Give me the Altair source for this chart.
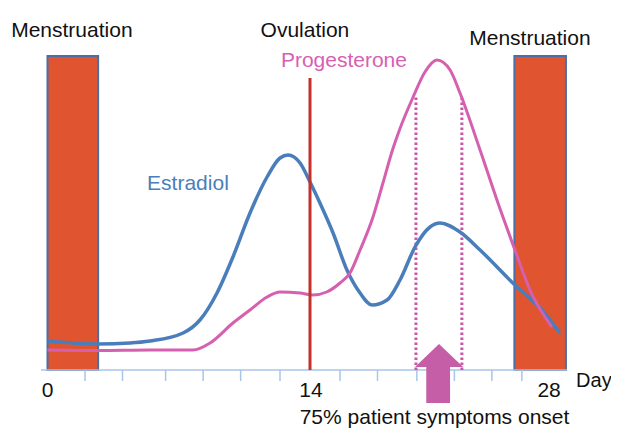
import altair as alt
import pandas as pd

# ---- data (days of cycle, hormone level in arbitrary units) ----
estradiol_day = [0, 2.69, 4.4, 5.47, 7.23, 8.13, 9.04, 9.89, 10.8, 11.71, 12.4, 12.83, 13.47, 14.0,
                 14.53, 15.23, 15.97, 16.67, 17.31, 18.11, 18.8, 19.6, 20.4, 20.93, 22.0, 23.07,
                 24.93, 26.27, 27.33]
estradiol_lvl = [29, 26, 27, 29, 37, 50, 77, 113, 157, 193, 212, 215, 207, 188,
                 167, 137, 100, 77, 65, 70, 90, 123, 143, 147, 138, 120,
                 85, 62, 37]

progest_day = [0, 2.7, 5.47, 7.76, 8.67, 9.89, 10.8, 11.71, 12.4, 13.47, 14.16, 14.89, 15.6,
               16.13, 16.67, 17.36, 17.89, 18.4, 18.77, 19.5, 20.13, 20.77, 21.47, 22.0, 23.07,
               23.97, 24.93, 25.73, 26.9]
progest_lvl = [20, 19.5, 20, 20, 27, 47, 60, 73, 78, 77, 75, 78, 87,
               97, 120, 153, 187, 220, 240, 273, 298, 310, 300, 277, 220,
               170, 120, 80, 43]

mens_start = [0, 24.9]
mens_end = [2.7, 27.65]
mens_top = [314, 314]

tick_days = [2, 4, 6.3, 8.3, 10.3, 12.4, 15.6, 17.6, 19.7, 21.7, 23.7, 25.3]
axis_start, axis_end = -0.35, 27.7

ovulation_day = [14]
ovulation_top = [292]

window_days = [19.65, 22.1]
window_top = [275, 275]

arrow_head_day = [19.6, 20.88, 22.17]
arrow_head_lvl = [3, 26, 3]
arrow_stem = dict(x=[20.2], x2=[21.47], y=[3], y2=[-33])

labels = [
    ("Menstruation", 1.3, 333, "center", "#111111", 21),
    ("Ovulation", 13.73, 333, "center", "#111111", 21),
    ("Menstruation", 25.73, 325, "center", "#111111", 21),
    ("Progesterone", 15.81, 303, "center", "#d760b4", 21),
    ("Estradiol", 7.49, 180, "center", "#4a7ebb", 21),
    ("0", 0, -27, "center", "#111111", 21),
    ("14", 14.05, -27, "center", "#111111", 21),
    ("28", 26.75, -27, "center", "#111111", 21),
    ("Day", 28.19, -17, "left", "#111111", 20),
    ("75% patient symptoms onset", 20.64, -54, "center", "#111111", 21),
]

# ---- scales ----
XS = alt.Scale(domain=[-2.1067, 30.053], nice=False, zero=False)
YS = alt.Scale(domain=[-58, 362], nice=False, zero=False)
FONT = "Liberation Sans"

bars = alt.Chart(pd.DataFrame({"s": mens_start, "e": mens_end, "t": mens_top, "b": [0, 0]})).mark_rect(
    fill="#e0552f", stroke="#4a6ea8", strokeWidth=2
).encode(x=alt.X("s:Q", scale=XS, axis=None), x2="e:Q",
         y=alt.Y("b:Q", scale=YS, axis=None), y2="t:Q")

axis_line = alt.Chart(pd.DataFrame({"a": [axis_start], "b": [axis_end], "y": [0]})).mark_rule(
    color="#a9c5e8", strokeWidth=1.5
).encode(x=alt.X("a:Q", scale=XS, axis=None), x2="b:Q", y=alt.Y("y:Q", scale=YS, axis=None))

ticks = alt.Chart(pd.DataFrame({"d": tick_days, "y": [0] * len(tick_days), "y2": [-11] * len(tick_days)})).mark_rule(
    color="#a9c5e8", strokeWidth=1.5
).encode(x=alt.X("d:Q", scale=XS, axis=None), y=alt.Y("y:Q", scale=YS, axis=None), y2="y2:Q")

estr = alt.Chart(pd.DataFrame({"d": estradiol_day, "v": estradiol_lvl})).mark_line(
    color="#4a7ebb", strokeWidth=3.5, interpolate="monotone"
).encode(x=alt.X("d:Q", scale=XS, axis=None), y=alt.Y("v:Q", scale=YS, axis=None))

prog = alt.Chart(pd.DataFrame({"d": progest_day, "v": progest_lvl})).mark_line(
    color="#d560b0", strokeWidth=3, interpolate="monotone"
).encode(x=alt.X("d:Q", scale=XS, axis=None), y=alt.Y("v:Q", scale=YS, axis=None))

window = alt.Chart(pd.DataFrame({"d": window_days, "t": window_top, "b": [0, 0]})).mark_rule(
    color="#cc55a8", strokeWidth=3, strokeDash=[2.5, 2.5]
).encode(x=alt.X("d:Q", scale=XS, axis=None), y=alt.Y("b:Q", scale=YS, axis=None), y2="t:Q")

ovul = alt.Chart(pd.DataFrame({"d": ovulation_day, "t": ovulation_top, "b": [0]})).mark_rule(
    color="#c4302a", strokeWidth=3
).encode(x=alt.X("d:Q", scale=XS, axis=None), y=alt.Y("b:Q", scale=YS, axis=None), y2="t:Q")

head = alt.Chart(pd.DataFrame({"d": arrow_head_day, "v": arrow_head_lvl, "b": [3, 3, 3]})).mark_area(
    color="#c65ea7", interpolate="linear"
).encode(x=alt.X("d:Q", scale=XS, axis=None), y=alt.Y("v:Q", scale=YS, axis=None), y2="b:Q")

stem = alt.Chart(pd.DataFrame(arrow_stem)).mark_rect(color="#c65ea7").encode(
    x=alt.X("x:Q", scale=XS, axis=None), x2="x2:Q", y=alt.Y("y:Q", scale=YS, axis=None), y2="y2:Q")

text_layers = []
for txt, d, v, al, col, fs in labels:
    text_layers.append(
        alt.Chart(pd.DataFrame({"t": [txt], "d": [d], "v": [v]})).mark_text(
            font=FONT, fontSize=fs, align=al, baseline="alphabetic", color=col
        ).encode(x=alt.X("d:Q", scale=XS, axis=None), y=alt.Y("v:Q", scale=YS, axis=None), text="t:N")
    )

chart = alt.layer(bars, axis_line, ticks, window, estr, prog, ovul, head, stem, *text_layers).properties(
    width=603, height=420, padding=0, autosize=alt.AutoSizeParams(type="none")
).configure_view(stroke=None)

chart.save("out.html", embed_options={"renderer": "svg", "actions": False})
